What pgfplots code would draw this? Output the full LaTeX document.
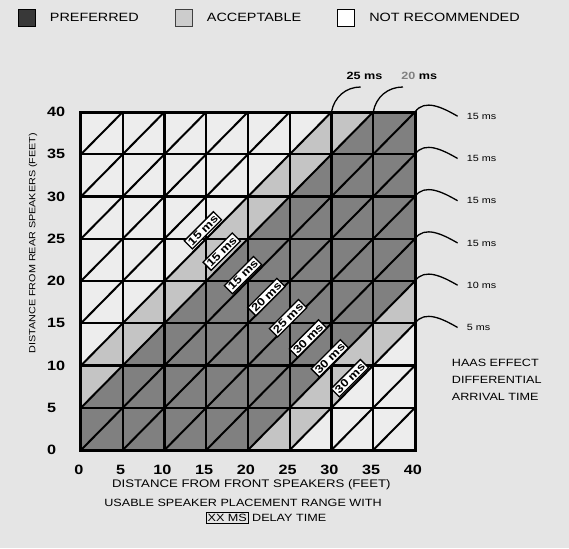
\documentclass[border=0pt]{standalone}
\usepackage{pgfplots}
\pgfplotsset{compat=1.18}
\usepackage{fontspec}
\setmainfont{Liberation Sans}[FakeStretch=1.2]
\definecolor{bgpaper}{gray}{0.9}
\definecolor{cellwhite}{gray}{0.93}
\definecolor{preferred}{gray}{0.5}
\definecolor{acceptable}{gray}{0.77}
\definecolor{legdark}{gray}{0.22}
\definecolor{leglight}{gray}{0.8}
\begin{document}
\begin{tikzpicture}
\fill[bgpaper] (-81pt,-98pt) rectangle (488pt,450pt);
\begin{axis}[
  at={(0pt,0pt)}, anchor=south west,
  scale only axis, width=334pt, height=338pt,
  xmin=0, xmax=40, ymin=0, ymax=40,
  xtick={0,5,...,40}, ytick={0,5,...,40},
  major tick length=0pt,
  axis line style={draw=none},
  clip=false,
  /pgf/number format/assume math mode=true,
  ticklabel style={font=\fontsize{13.5}{14}\selectfont\bfseries},
  xticklabel style={anchor=north, inner sep=0pt, yshift=-15pt, xshift=-2pt},
  yticklabel style={anchor=west, inner sep=0pt, xshift=-34pt},
  xlabel={DISTANCE FROM FRONT SPEAKERS (FEET)},
  ylabel={DISTANCE FROM REAR SPEAKERS (FEET)},
  xlabel style={at={(rel axis cs:0.51,-0.1036)}, anchor=center, inner sep=0pt, font=\fontsize{11}{12}\selectfont},
  ylabel style={at={(rel axis cs:-0.1437,0.612)}, anchor=center, inner sep=0pt, font=\fontsize{9}{10}\selectfont},
  legend columns=3,
  legend style={at={(rel axis cs:-0.19,1.278)}, anchor=west, draw=none, fill=none, inner sep=0pt,
    nodes={inner sep=0pt}, font=\fontsize{12}{13}\selectfont,
    /tikz/every odd column/.append style={column sep=14pt},
    /tikz/every even column/.append style={column sep=36pt}},
  legend image code/.code={\draw[#1] (0pt,-8.5pt) rectangle (17pt,8.5pt);},
]
% cell background (not recommended)
\addplot[draw=none, fill=cellwhite, forget plot] coordinates {(0,0) (40,0) (40,40) (0,40)};
% preferred band
\addplot[draw=none, fill=preferred, forget plot] coordinates {(0,0) (0,5) (35,40) (40,40) (40,20) (20,0)};
% acceptable bands
\addplot[draw=none, fill=acceptable, forget plot] coordinates {(0,5) (0,10) (30,40) (35,40)};
\addplot[draw=none, fill=acceptable, forget plot] coordinates {(20,0) (40,20) (40,15) (25,0)};
% diagonals
\addplot[black, line width=2pt, line cap=round, unbounded coords=jump, forget plot] coordinates {
 (0,35) (5,40) (0,nan)
 (0,30) (10,40) (0,nan)
 (0,25) (15,40) (0,nan)
 (0,20) (20,40) (0,nan)
 (0,15) (25,40) (0,nan)
 (0,10) (30,40) (0,nan)
 (0,5) (35,40) (0,nan)
 (0,0) (40,40) (0,nan)
 (5,0) (40,35) (0,nan)
 (10,0) (40,30) (0,nan)
 (15,0) (40,25) (0,nan)
 (20,0) (40,20) (0,nan)
 (25,0) (40,15) (0,nan)
 (30,0) (40,10) (0,nan)
 (35,0) (40,5)
};
% grid lines
\addplot[black, line width=2.4pt, line cap=rect, unbounded coords=jump, forget plot] coordinates {
 (0,5) (40,5) (0,nan) (0,10) (40,10) (0,nan) (0,15) (40,15) (0,nan) (0,20) (40,20) (0,nan)
 (0,25) (40,25) (0,nan) (0,30) (40,30) (0,nan) (0,35) (40,35) (0,nan)
 (5,0) (5,40) (0,nan) (10,0) (10,40) (0,nan) (15,0) (15,40) (0,nan) (20,0) (20,40) (0,nan)
 (25,0) (25,40) (0,nan) (30,0) (30,40) (0,nan) (35,0) (35,40)
};
\addplot[black, line width=3pt, line cap=rect, line join=miter, forget plot] coordinates {(0,0) (40,0) (40,40) (0,40) (0,0)};
% delay labels along the diagonal
\addplot[draw=none, mark=none, forget plot, point meta=explicit symbolic, nodes near coords,
  nodes near coords style={anchor=center, rotate=45, fill=white, draw=black, line width=1.3pt,
  inner sep=1.9pt, font=\fontsize{11}{11}\selectfont\bfseries}] coordinates {
 (14.6,26.0) [15 ms]
 (16.85,23.47) [15 ms]
 (19.4,20.7) [15 ms]
 (22.2,18.1) [20 ms]
 (24.8,15.6) [25 ms]
 (27.2,13.2) [30 ms]
 (29.8,10.85) [30 ms]
 (32.2,8.5) [30 ms]
};
% legend
\addlegendimage{fill=legdark, draw=black, line width=1.2pt}
\addlegendentry{PREFERRED}
\addlegendimage{fill=leglight, draw=black!75, line width=1.2pt}
\addlegendentry{ACCEPTABLE}
\addlegendimage{fill=white, draw=black, line width=1.2pt}
\addlegendentry{NOT RECOMMENDED}
% right-side leaders
\foreach \yy/\lab in {40/15,35/15,30/15,25/15,20/10,15/5} {
  \edef\tmp{\noexpand\draw[line width=1.3pt] (axis cs:40,\yy) to[out=55,in=150] (axis cs:45.1,\yy-0.5);
  \noexpand\node[anchor=west, inner sep=0pt, font=\noexpand\fontsize{9}{9}\noexpand\selectfont] at (axis cs:46.2,\yy-0.5) {\lab\space ms};}
  \tmp
}
% top leaders
\draw[line width=1.3pt] (axis cs:30,40) to[out=80,in=180] (axis cs:33.5,42.96);
\draw[line width=1.3pt] (axis cs:35,40) to[out=80,in=180] (axis cs:38.56,42.96);
\node[inner sep=0pt, font=\fontsize{10.5}{11}\selectfont\bfseries] at (axis cs:33.95,44.26) {25 ms};
\node[inner sep=0pt, font=\fontsize{10.5}{11}\selectfont\bfseries] at (axis cs:40.5,44.26) {\textcolor{gray}{20} ms};
% side note
\node[anchor=west, align=left, inner sep=0pt, font=\fontsize{10.5}{17}\selectfont] at (axis cs:44.4,8.28) {HAAS EFFECT\\DIFFERENTIAL\\ARRIVAL TIME};
% caption
\node[inner sep=0pt, font=\fontsize{10.5}{12}\selectfont] at (rel axis cs:0.485,-0.157) {USABLE SPEAKER PLACEMENT RANGE WITH};
\node[inner sep=0pt, font=\fontsize{10.5}{12}\selectfont] at (rel axis cs:0.554,-0.201) {{\setlength{\fboxsep}{1pt}\setlength{\fboxrule}{0.8pt}\fbox{XX MS}} DELAY TIME};
\end{axis}
\end{tikzpicture}
\end{document}
